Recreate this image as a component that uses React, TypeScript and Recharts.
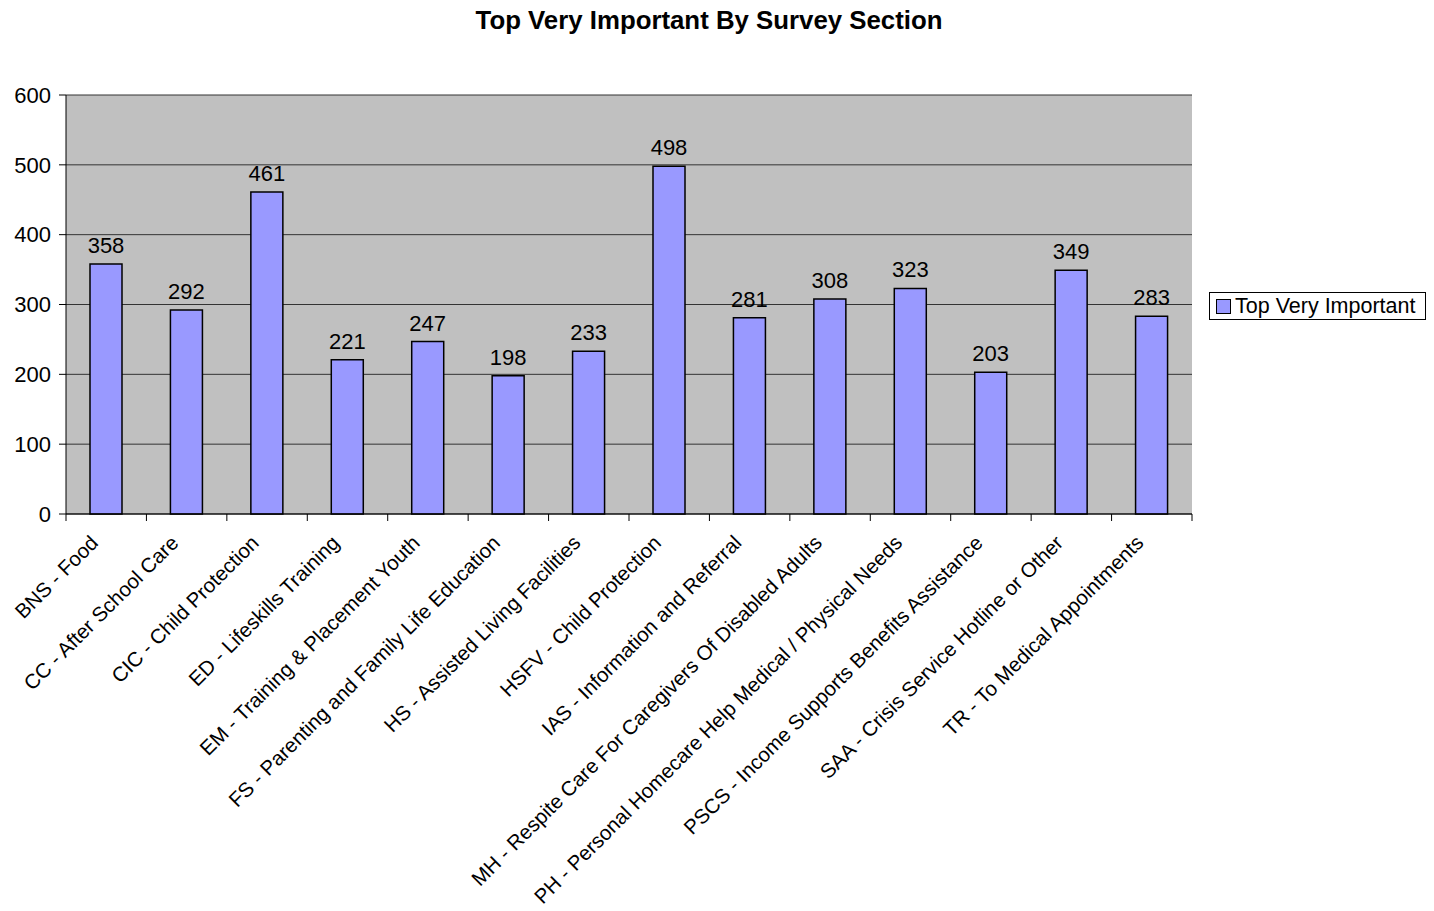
import { BarChart, Bar, CartesianGrid, XAxis, YAxis, LabelList } from 'recharts'

const categories = [
  'BNS - Food',
  'CC - After School Care',
  'CIC - Child Protection',
  'ED - Lifeskills Training',
  'EM - Training & Placement Youth',
  'FS - Parenting and Family Life Education',
  'HS - Assisted Living Facilities',
  'HSFV - Child Protection',
  'IAS - Information and Referral',
  'MH - Respite Care For Caregivers Of Disabled Adults',
  'PH - Personal Homecare Help Medical / Physical Needs',
  'PSCS - Income Supports Benefits Assistance',
  'SAA - Crisis Service Hotline or Other',
  'TR - To Medical Appointments',
]
const topVeryImportant = [358, 292, 461, 221, 247, 198, 233, 498, 281, 308, 323, 203, 349, 283]
const yTicks = [0, 100, 200, 300, 400, 500, 600]
const seriesName = 'Top Very Important'

const data = categories.map((name, i) => ({ name, value: topVeryImportant[i] }))

const W = 1418
const H = 903
const margin = { top: 87, right: 234, left: 0, bottom: 0 }
const yAxisWidth = 58
const xAxisHeight = 397
const plotWidth = W - margin.left - margin.right - yAxisWidth
const font = '"Liberation Sans", Arial, sans-serif'

function CategoryTick(props: any) {
  const { x, y, payload, index } = props
  const off = payload?.offset ?? plotWidth / categories.length / 2
  const axisY = y - 10
  const tx = x - 12
  const ty = y + 15
  return (
    <g>
      <line x1={x - off} x2={x - off} y1={axisY} y2={axisY + 7} stroke="#000" />
      {index === categories.length - 1 && (
        <line x1={x + off} x2={x + off} y1={axisY} y2={axisY + 7} stroke="#000" />
      )}
      <text
        x={tx}
        y={ty}
        dy="0.35em"
        textAnchor="end"
        transform={`rotate(-45 ${tx} ${ty})`}
        fontSize={20.5}
        fontFamily={font}
        fill="#000"
      >
        {payload.value}
      </text>
    </g>
  )
}

export default function App() {
  return (
    <div style={{ position: 'relative', width: W, height: H }}>
      <div
        style={{
          position: 'absolute',
          top: 0,
          left: -8,
          width: W,
          textAlign: 'center',
          fontFamily: font,
          fontWeight: 'bold',
          fontSize: 25.8,
          lineHeight: '25px',
          zIndex: 1,
        }}
      >
        Top Very Important By Survey Section
      </div>
      <div
        style={{
          position: 'absolute',
          left: 1201,
          top: 284,
          width: 217,
          height: 28,
          boxSizing: 'border-box',
          zIndex: 1,
          border: '1px solid #000',
          background: '#fff',
          paddingLeft: 6,
          display: 'flex',
          alignItems: 'center',
          fontFamily: font,
          fontSize: 21.5,
          color: '#000',
          whiteSpace: 'nowrap',
        }}
      >
        <span
          style={{
            width: 13,
            height: 13,
            flexShrink: 0,
            background: '#9999FF',
            border: '1.5px solid #000',
            marginRight: 4,
            display: 'inline-block',
          }}
        />
        {seriesName}
      </div>
      <BarChart width={W} height={H} data={data} margin={margin} barSize={32}>
        <CartesianGrid vertical={false} fill="#C0C0C0" stroke="#333" horizontalValues={yTicks} />
        <XAxis
          dataKey="name"
          interval={0}
          height={xAxisHeight}
          tick={<CategoryTick />}
          tickLine={false}
          tickSize={6}
          tickMargin={4}
          axisLine={{ stroke: '#000' }}
        />
        <YAxis
          domain={[0, 600]}
          ticks={yTicks}
          width={yAxisWidth}
          tick={{ fontSize: 22, fontFamily: font, fill: '#000' }}
          tickLine={{ stroke: '#000' }}
          tickSize={7}
          tickMargin={8}
          axisLine={{ stroke: '#000' }}
        />
        <YAxis
          yAxisId="right"
          orientation="right"
          domain={[0, 600]}
          width={0}
          tick={false}
          tickLine={false}
          axisLine={{ stroke: '#808080' }}
        />
        <Bar dataKey="value" name={seriesName} fill="#9999FF" stroke="#000" strokeWidth={1.5} isAnimationActive={false}>
          <LabelList dataKey="value" position="top" offset={11} fontSize={22} fontFamily={font} fill="#000" />
        </Bar>
      </BarChart>
    </div>
  )
}
